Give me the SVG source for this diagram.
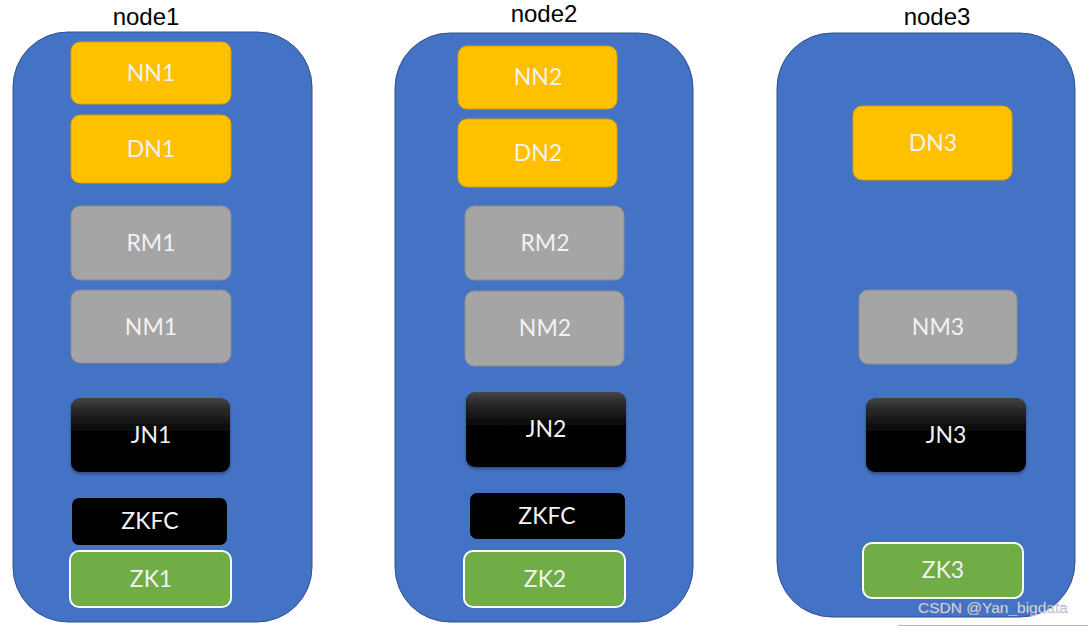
<svg xmlns="http://www.w3.org/2000/svg" width="1088" height="626" viewBox="0 0 1088 626">
<defs>
<linearGradient id="jn" x1="0" y1="0" x2="0" y2="1">
<stop offset="0" stop-color="#454545"/>
<stop offset="0.15" stop-color="#2a2a2a"/>
<stop offset="0.5" stop-color="#000"/>
<stop offset="1" stop-color="#000"/>
</linearGradient>
<filter id="sh" x="-10%" y="-10%" width="120%" height="130%">
<feDropShadow dx="0" dy="2" stdDeviation="1.5" flood-color="#000" flood-opacity="0.35"/>
</filter>
</defs>
<style>
.host{fill:#4472C4;stroke:#2F528F;stroke-width:1}
.title{font-family:"Liberation Sans",Arial,sans-serif;font-size:24px;fill:#000;text-anchor:middle}
.lbl{font-family:Lato,"Open Sans",sans-serif;font-size:23px;fill:#F2F2F2;text-anchor:middle}
.or{fill:#FFC000;stroke:#D9A100;stroke-width:1}
.gr{fill:#A5A5A5;stroke:#8C8C8C;stroke-width:1}
.jn{fill:url(#jn);filter:url(#sh)}
.zkfc{fill:#000}
.zk{fill:#70AD47;stroke:#FFFFFF;stroke-width:2}
.wm{font-family:"Liberation Sans",Arial,sans-serif;font-size:15.5px;fill:#E4E4E4;stroke:#8f9cb5;stroke-width:0.3}
</style>
<rect width="1088" height="626" fill="#fff"/>
<g id="node1">
<text class="title" x="146" y="25">node1</text>
<rect class="host" x="13" y="32" width="299" height="590" rx="55"/>
<g id="NN1"><rect class="or" x="71" y="42" width="160" height="62" rx="9"/><text class="lbl" x="151" y="81">NN1</text></g>
<g id="DN1"><rect class="or" x="71" y="115" width="160" height="68" rx="9"/><text class="lbl" x="151" y="157">DN1</text></g>
<g id="RM1"><rect class="gr" x="71" y="206" width="160" height="74" rx="9"/><text class="lbl" x="151" y="251">RM1</text></g>
<g id="NM1"><rect class="gr" x="71" y="290" width="160" height="73" rx="9"/><text class="lbl" x="151" y="335">NM1</text></g>
<g id="JN1"><rect class="jn" x="71" y="398" width="159" height="74" rx="9"/><text class="lbl" x="151" y="443">JN1</text></g>
<g id="ZKFC1"><rect class="zkfc" x="72" y="498" width="155" height="47" rx="7"/><text class="lbl" x="150" y="529">ZKFC</text></g>
<g id="ZK1"><rect class="zk" x="70" y="551" width="161" height="56" rx="9"/><text class="lbl" x="151" y="587">ZK1</text></g>
</g>
<g id="node2">
<text class="title" x="544" y="22">node2</text>
<rect class="host" x="395" y="33" width="298" height="589" rx="55"/>
<g id="NN2"><rect class="or" x="458" y="46" width="159" height="63" rx="9"/><text class="lbl" x="538" y="85">NN2</text></g>
<g id="DN2"><rect class="or" x="458" y="119" width="159" height="68" rx="9"/><text class="lbl" x="538" y="161">DN2</text></g>
<g id="RM2"><rect class="gr" x="465" y="206" width="159" height="74" rx="9"/><text class="lbl" x="545" y="251">RM2</text></g>
<g id="NM2"><rect class="gr" x="465" y="291" width="159" height="75" rx="9"/><text class="lbl" x="545" y="336">NM2</text></g>
<g id="JN2"><rect class="jn" x="466" y="392" width="160" height="75" rx="9"/><text class="lbl" x="546" y="437">JN2</text></g>
<g id="ZKFC2"><rect class="zkfc" x="470" y="493" width="155" height="46" rx="7"/><text class="lbl" x="547" y="524">ZKFC</text></g>
<g id="ZK2"><rect class="zk" x="464" y="551" width="161" height="56" rx="9"/><text class="lbl" x="545" y="587">ZK2</text></g>
</g>
<g id="node3">
<text class="title" x="937" y="25">node3</text>
<rect class="host" x="777" y="33" width="298" height="584" rx="55"/>
<g id="DN3"><rect class="or" x="853" y="106" width="159" height="74" rx="9"/><text class="lbl" x="933" y="151">DN3</text></g>
<g id="NM3"><rect class="gr" x="859" y="290" width="158" height="74" rx="9"/><text class="lbl" x="938" y="335">NM3</text></g>
<g id="JN3"><rect class="jn" x="866" y="398" width="160" height="74" rx="9"/><text class="lbl" x="946" y="443">JN3</text></g>
<g id="ZK3"><rect class="zk" x="863" y="543" width="160" height="55" rx="9"/><text class="lbl" x="943" y="578">ZK3</text></g>
</g>
<g id="connectors"></g>
<text class="wm" x="918" y="613">CSDN @Yan_bigdata</text>
<line x1="898" y1="625.5" x2="1088" y2="625.5" stroke="#E8A0A0" stroke-width="1"/>
</svg>
